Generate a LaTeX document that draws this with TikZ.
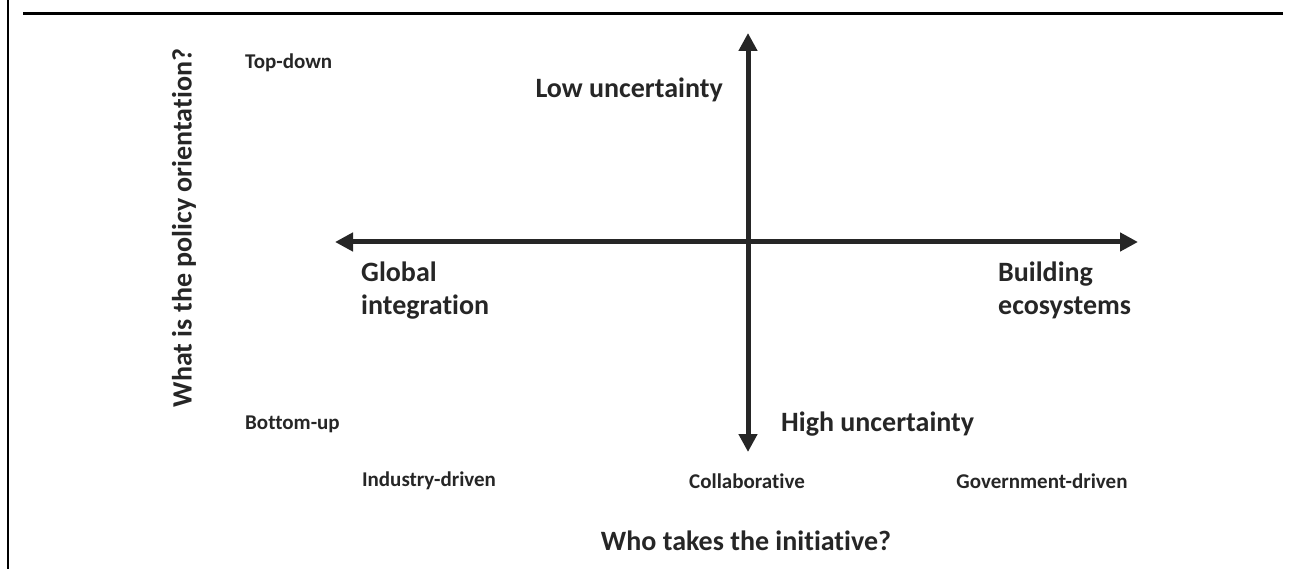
\documentclass[tikz,border=0pt]{standalone}
\usepackage{fontspec}
\setmainfont[Ligatures={NoCommon}]{Carlito}
\usetikzlibrary{arrows.meta}
\begin{document}
\begin{tikzpicture}[x=1pt,y=-1pt,
  axis/.style={line width=5pt,color=black!85,{Triangle[length=18pt,width=18pt]}-{Triangle[length=18pt,width=18pt]}},
  big/.style={font=\bfseries\fontsize{28}{33}\selectfont,text=black!85,inner sep=0pt},
  mid/.style={font=\bfseries\fontsize{28}{33}\selectfont,text=black!85,inner sep=0pt},
  small/.style={font=\bfseries\fontsize{21}{25}\selectfont,text=black!85,inner sep=0pt}]
\useasboundingbox (0,0) rectangle (1297,569);
\draw[line width=2pt] (8,0) -- (8,569);
\draw[line width=3pt] (23,14) -- (1283,14);
\coordinate (T) at (748,33);
\coordinate (B) at (748,452);
\coordinate (L) at (335,242);
\coordinate (R) at (1138,242);
\draw[axis] (L) -- (R);
\draw[axis] (T) -- (B);
\node[small,anchor=west] (td) at (245,63) {Top-down};
\node[small,anchor=west] (bu) at (245,424) {Bottom-up};
\node[big,anchor=east] (lu) at (723,90) {Low uncertainty};
\node[big,anchor=west] (hu) at (781,424) {High uncertainty};
\node[big,anchor=north west,align=left] (gi) at (361,262) {Global\\integration};
\node[big,anchor=north west,align=left] (be) at (998,262) {Building\\ecosystems};
\node[small] (id) at (429,481) {Industry-driven};
\node[small] (co) at (747,481) {Collaborative};
\node[small] (gd) at (1042,481) {Government-driven};
\node[mid] (wt) at (746,541) {Who takes the initiative?};
\node[mid,rotate=90] (wp) at (184,228) {What is the policy orientation?};
\end{tikzpicture}
\end{document}
